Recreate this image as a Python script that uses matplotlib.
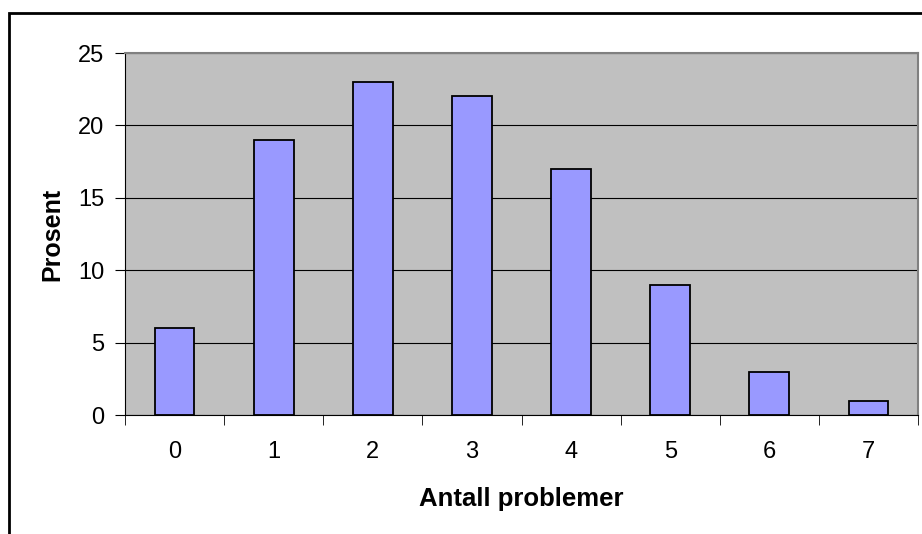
import matplotlib
matplotlib.use("Agg")
import matplotlib.pyplot as plt
from matplotlib.patches import Rectangle
import numpy as np

categories = ["0", "1", "2", "3", "4", "5", "6", "7"]
values = [6, 19, 23, 22, 17, 9, 3, 1]
yticks = [0, 5, 10, 15, 20, 25]

plt.rcParams['font.family'] = ['Liberation Sans', 'DejaVu Sans']

W, H = 922, 534
fig = plt.figure(figsize=(W/100, H/100), dpi=100)
ax = fig.add_axes([125/W, 1-415/H, (918-125)/W, (415-53)/H])

x = np.arange(len(categories))
ax.set_facecolor('#C0C0C0')
ax.set_axisbelow(True)
ax.yaxis.grid(True, color='black', linewidth=0.8)
ax.bar(x, values, width=0.4, color='#9999FF', edgecolor='black', linewidth=1.3, zorder=3)

ax.set_xlim(-0.5, len(categories)-0.5)
ax.set_ylim(0, 25)
ax.set_yticks(yticks)
ax.set_yticklabels([str(v) for v in yticks], fontsize=17)
ax.set_xticks(x)
ax.set_xticklabels(categories, fontsize=17)
ax.tick_params(axis='x', which='major', length=0, pad=19)
ax.set_xticks(np.arange(-0.5, len(categories), 1.0), minor=True)
ax.tick_params(axis='x', which='minor', length=7, direction='out', color='black')
ax.tick_params(axis='y', length=7, direction='out', pad=8, color='black')

for s in ['top', 'right']:
    ax.spines[s].set_color('#808080')
    ax.spines[s].set_linewidth(1.5)
for s in ['left', 'bottom']:
    ax.spines[s].set_color('black')
    ax.spines[s].set_linewidth(0.8)

ax.set_ylabel('Prosent', fontsize=18, fontweight='bold', labelpad=10)
ax.set_xlabel('Antall problemer', fontsize=18.5, fontweight='bold', labelpad=17)

fig.patches.append(Rectangle((9/W, -0.1), 1.2, (1-13/H)+0.1, transform=fig.transFigure,
                             fill=False, edgecolor='black', linewidth=2, zorder=10))

fig.savefig('out.png', dpi=100)
